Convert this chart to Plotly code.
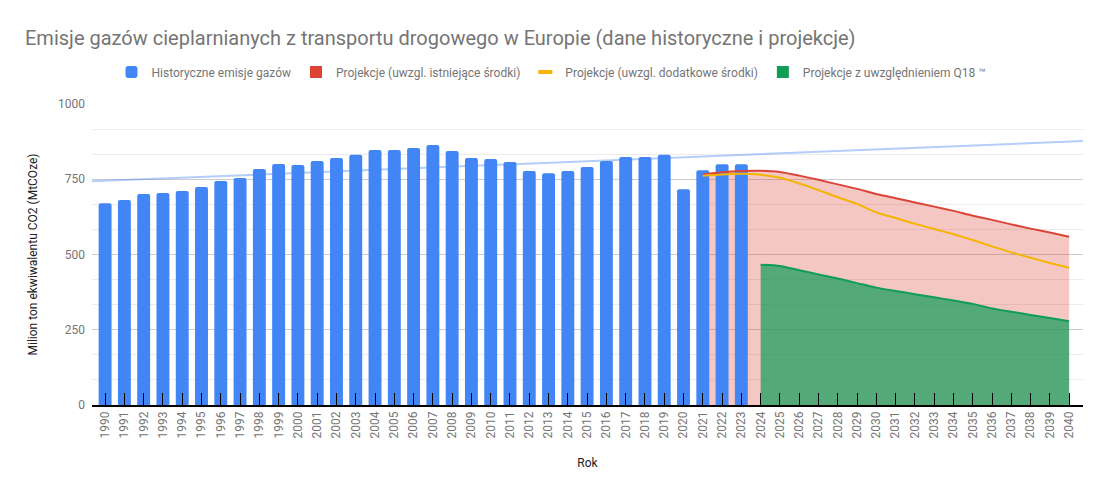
import plotly.graph_objects as go

years_hist = list(range(1990, 2024))
emisje_hist = [670, 681, 701, 704, 711, 724, 744, 754, 784, 801,
               797, 811, 821, 831, 847, 847, 854, 864, 844, 821,
               817, 807, 777, 770, 777, 791, 811, 824, 824, 831,
               717, 780, 800, 800]

years_proj = list(range(2021, 2041))
proj_istniejace = [766, 773, 777, 778, 774, 762, 748, 733, 718, 701,
                   687, 673, 659, 645, 629, 615, 600, 586, 573, 559]
proj_dodatkowe = [762, 766, 768, 765, 755, 736, 714, 690, 668, 640,
                  621, 602, 585, 567, 548, 527, 507, 489, 472, 456]

years_q18 = list(range(2024, 2041))
proj_q18 = [466, 462, 448, 434, 420, 405, 390, 379, 368, 358,
            347, 336, 321, 310, 299, 289, 278]

# linia trendu (wartości dla 1990 i 2040)
trend_years = [1990, 2040]
trend_vals = [745, 875]

all_years = list(range(1990, 2041))
x_range = [1989.32, 2040.72]

slope = (trend_vals[1] - trend_vals[0]) / (trend_years[1] - trend_years[0])
trend_x = x_range
trend_y = [trend_vals[0] + slope * (x - trend_years[0]) for x in x_range]

BLUE = '#4285F4'
RED = '#DB4437'
YELLOW = '#F4B400'
GREEN = '#0F9D58'
GREY = '#757575'
FONT = 'Roboto'

# strona ma 8px marginesu body, więc figura jest o 8px mniejsza
W, H = 1099, 489

fig = go.Figure()

# warstwa spodnia: trend i wypełnienia
fig.add_trace(go.Scatter(x=trend_x, y=trend_y, mode='lines',
                         line=dict(color='rgba(66,133,244,0.4)', width=2),
                         showlegend=False, hoverinfo='skip', xaxis='x', yaxis='y'))
fig.add_trace(go.Scatter(x=years_proj, y=proj_istniejace, mode='lines',
                         line=dict(width=0, shape='spline', smoothing=0.6),
                         fill='tozeroy', fillcolor='rgba(219,68,55,0.3)',
                         showlegend=False, hoverinfo='skip', xaxis='x', yaxis='y'))
fig.add_trace(go.Scatter(x=years_q18, y=proj_q18, mode='lines',
                         line=dict(width=0, shape='spline', smoothing=0.6),
                         fill='tozeroy', fillcolor='rgba(15,157,88,0.7)',
                         showlegend=False, hoverinfo='skip', xaxis='x', yaxis='y'))

# warstwa górna: słupki i linie
fig.add_trace(go.Bar(x=years_hist, y=emisje_hist, width=0.67,
                     marker=dict(color=BLUE, line=dict(width=0), cornerradius=2),
                     name='Historyczne emisje gazów', legendrank=1,
                     xaxis='x2', yaxis='y2'))
fig.add_trace(go.Scatter(x=years_proj, y=proj_istniejace, mode='lines',
                         line=dict(color=RED, width=2, shape='spline', smoothing=0.6),
                         showlegend=False, xaxis='x2', yaxis='y2'))
fig.add_trace(go.Scatter(x=years_proj, y=proj_dodatkowe, mode='lines',
                         line=dict(color=YELLOW, width=2, shape='spline', smoothing=0.6),
                         showlegend=False, xaxis='x2', yaxis='y2'))
fig.add_trace(go.Scatter(x=years_q18, y=proj_q18, mode='lines',
                         line=dict(color=GREEN, width=2, shape='spline', smoothing=0.6),
                         showlegend=False, xaxis='x2', yaxis='y2'))

# wpisy legendy (symbole jak w oryginale)
legend_items = [
    ('Projekcje (uwzgl. istniejące środki)', RED, 'square', 2),
    ('Projekcje (uwzgl. dodatkowe środki)', YELLOW, 'line-ew', 3),
    ('Projekcje z uwzględnieniem Q18 ™', GREEN, 'square', 4),
]
for name, color, symbol, rank in legend_items:
    if symbol == 'square':
        mk = dict(symbol='square', size=12, color=color, line=dict(width=0))
    else:
        mk = dict(symbol='line-ew', size=10, color=color, line=dict(width=4, color=color))
    fig.add_trace(go.Scatter(x=[None], y=[None], mode='markers', marker=mk,
                             name=name, legendrank=rank, xaxis='x2', yaxis='y2'))

fig.update_layout(
    width=W, height=H,
    margin=dict(l=84, r=24, t=96, b=92),
    paper_bgcolor='white', plot_bgcolor='white',
    font=dict(family=FONT, size=12, color=GREY),
    title=dict(text='Emisje gazów cieplarnianych z transportu drogowego w Europie (dane historyczne i projekcje)',
               font=dict(family=FONT, size=20, color=GREY),
               x=17 / W, xanchor='left', xref='container',
               y=1 - 30 / H, yanchor='middle', yref='container'),
    legend=dict(orientation='h', xref='container', x=0.5 - 6 / W, xanchor='center',
                yref='container', y=1 - 64 / H, yanchor='middle',
                font=dict(family=FONT, size=12, color=GREY),
                traceorder='normal'),
    showlegend=True,
    xaxis=dict(range=x_range, visible=False, fixedrange=True, automargin=False),
    yaxis=dict(range=[0, 1000], tickvals=[0, 250, 500, 750, 1000],
               showgrid=True, gridcolor='#cccccc', gridwidth=1,
               minor=dict(tick0=0, dtick=250 / 3, showgrid=True, gridcolor='#ebebeb'),
               zeroline=False, showline=False, ticks='', ticklabelstandoff=6,
               tickfont=dict(size=12, color=GREY), automargin=False,
               title=dict(text='Milion ton ekwiwalentu CO2 (MtCOze)',
                          font=dict(size=12, color='#222222'), standoff=17)),
    xaxis2=dict(range=x_range, overlaying='x', anchor='y2', automargin=False,
                tickvals=all_years, ticktext=[str(y) for y in all_years],
                tickangle=-90, ticks='inside', ticklen=12, tickcolor='black', tickwidth=1,
                showline=True, linecolor='black', linewidth=1.5,
                showgrid=False, zeroline=False,
                tickfont=dict(size=12, color=GREY),
                title=dict(text='Rok', font=dict(size=12, color='#222222'), standoff=21)),
    yaxis2=dict(range=[0, 1000], overlaying='y', anchor='x2', visible=False, automargin=False),
)

fig.write_html("out.html")
